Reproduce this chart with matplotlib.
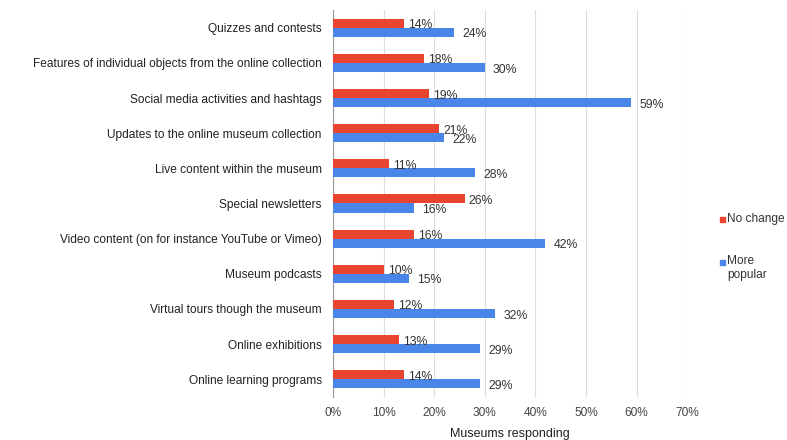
import matplotlib
matplotlib.use("Agg")
import matplotlib.pyplot as plt
from matplotlib.patches import Rectangle
import numpy as np

plt.rcParams['font.family'] = ['Liberation Sans', 'DejaVu Sans']

categories = [
    'Quizzes and contests',
    'Features of individual objects from the online collection',
    'Social media activities and hashtags',
    'Updates to the online museum collection',
    'Live content within the museum',
    'Special newsletters',
    'Video content (on for instance YouTube or Vimeo)',
    'Museum podcasts',
    'Virtual tours though the museum',
    'Online exhibitions',
    'Online learning programs',
]
no_change = [14, 18, 19, 21, 11, 26, 16, 10, 12, 13, 14]
more_popular = [24, 30, 59, 22, 28, 16, 42, 15, 32, 29, 29]
x_ticks = [0, 10, 20, 30, 40, 50, 60, 70]

RED = '#E8442F'
BLUE = '#4A86E8'
TXT = '#333333'

fig = plt.figure(figsize=(7.87, 4.40), dpi=100)
ax = fig.add_axes([0.4231, 0.098, 0.450, 0.879])

y = np.arange(len(categories))
h = 0.26
ax.barh(y - h / 2, no_change, height=h, color=RED, zorder=3)
ax.barh(y + h / 2, more_popular, height=h, color=BLUE, zorder=3)

# value labels next to each bar
for yi, v in zip(y, no_change):
    ax.annotate(f'{v}%', (v, yi - h / 2), xytext=(3, -1.5),
                textcoords='offset points', ha='left', va='center',
                fontsize=8.8, color=TXT, zorder=4)
for yi, v in zip(y, more_popular):
    ax.annotate(f'{v}%', (v, yi + h / 2), xytext=(6, -1.5),
                textcoords='offset points', ha='left', va='center',
                fontsize=8.8, color=TXT, zorder=4)

ax.set_ylim(len(categories) - 0.5, -0.5)
ax.set_yticks(y)
ax.set_yticklabels(categories, fontsize=8.6, color='#222222')
ax.set_xlim(0, 70)
ax.set_xticks(x_ticks)
ax.set_xticklabels([f'{t}%' for t in x_ticks], fontsize=8.6, color='#444444')
ax.tick_params(axis='both', length=0)
ax.tick_params(axis='y', pad=8)
ax.tick_params(axis='x', pad=7)
ax.set_xlabel('Museums responding', fontsize=9, color='#222222', labelpad=7)

ax.grid(axis='x', color='#DDDDDD', linewidth=0.8, zorder=0)
for s in ['top', 'right', 'bottom']:
    ax.spines[s].set_visible(False)
ax.spines['left'].set_color('#999999')
ax.spines['left'].set_linewidth(0.8)

# legend drawn by hand: small squares with labels
W, H = 787, 440
fig.patches.append(Rectangle((720 / W, 1 - 222 / H), 5 / W, 5 / H,
                             transform=fig.transFigure, color=RED))
fig.text(727 / W, 1 - 219 / H, 'No change', fontsize=8.6, color=TXT,
         ha='left', va='center')
fig.patches.append(Rectangle((720 / W, 1 - 265 / H), 5 / W, 5 / H,
                             transform=fig.transFigure, color=BLUE))
fig.text(727 / W, 1 - 255 / H, 'More\npopular', fontsize=8.6, color=TXT,
         ha='left', va='top', linespacing=1.2)

fig.savefig('out.png', dpi=100)
